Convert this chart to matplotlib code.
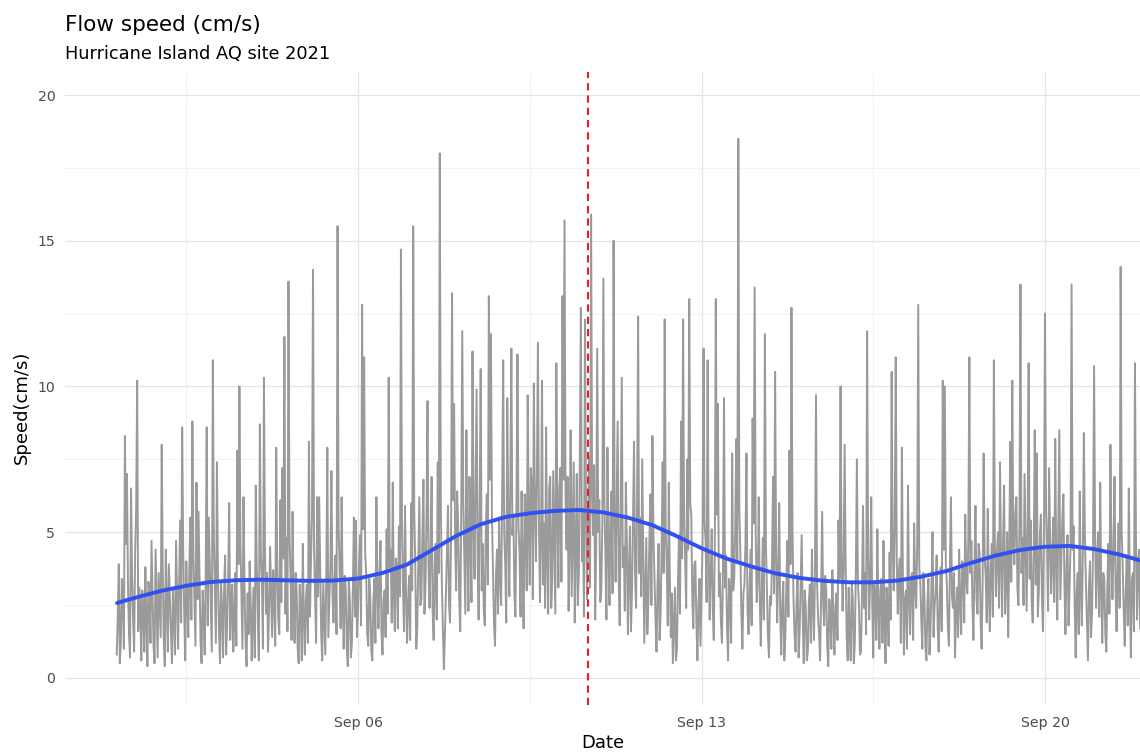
import numpy as np
import pandas as pd
import matplotlib
matplotlib.use("Agg")
import matplotlib.pyplot as plt
import matplotlib.dates as mdates

plt.rcParams['font.family'] = ['DejaVu Sans']

# flow speed (cm/s) on the hour, Sep 1 02:00 -> Sep 21 23:00, one row per day
speed_hour = [
    0.8, 3.9, 1.2, 2.6, 8.3, 7.0, 1.5, 6.5, 2.0, 4.3, 10.2, 3.1, 0.6, 2.2, 3.8, 0.4, 2.9, 4.7, 1.1, 4.4, 0.7, 2.5,
    8.0, 1.3, 4.4, 0.9, 2.7, 0.5, 2.1, 4.7, 1.0, 5.4, 8.6, 2.2, 4.0, 1.4, 5.5, 8.8, 2.6, 6.7, 5.7, 1.2, 3.0, 0.8, 8.6, 5.5,
    2.4, 10.9, 3.0, 7.4, 1.6, 3.3, 0.7, 4.2, 1.8, 6.0, 2.5, 0.9, 3.6, 7.8, 10.0, 2.8, 6.2, 1.3, 2.9, 4.0, 0.6, 3.1, 6.6, 1.9,
    8.7, 3.4, 10.3, 2.2, 0.9, 4.5, 1.4, 2.8, 7.9, 2.0, 6.1, 7.2, 11.7, 4.8, 13.6, 3.5, 5.7, 1.2, 3.0, 0.5, 2.4, 4.6, 0.8, 3.2,
    8.1, 4.0, 14.0, 2.9, 6.2, 6.2, 1.5, 3.3, 0.8, 7.9, 2.6, 7.1, 1.9, 4.2, 15.5, 3.8, 6.2, 1.0, 3.1, 0.4, 2.7, 1.2, 5.5, 5.4,
    2.3, 4.9, 12.8, 11.0, 3.6, 1.1, 2.8, 0.6, 3.4, 6.2, 1.7, 4.7, 0.8, 3.0, 5.1, 10.3, 4.4, 6.7, 1.6, 3.8, 5.2, 14.7, 3.1, 5.9,
    1.2, 3.5, 6.0, 15.5, 3.9, 1.8, 6.2, 2.7, 6.8, 3.1, 9.5, 2.4, 6.9, 1.3, 4.6, 7.4, 18.0, 3.3, 0.3, 2.9, 5.9, 1.9, 13.2, 9.4,
    3.0, 5.2, 1.6, 11.9, 4.1, 8.5, 2.3, 5.0, 11.2, 3.4, 9.9, 2.0, 10.6, 4.6, 1.8, 6.3, 13.1, 11.8, 3.7, 1.1, 4.4, 5.5, 2.5, 10.9,
    3.9, 9.6, 2.8, 11.3, 5.6, 2.1, 11.1, 4.3, 6.4, 1.7, 5.8, 9.7, 3.2, 6.6, 10.1, 4.0, 11.5, 2.6, 10.2, 5.3, 8.6, 2.2, 6.9, 3.5,
    4.7, 10.8, 3.1, 7.2, 13.1, 15.7, 4.4, 2.3, 8.5, 5.1, 1.9, 7.0, 3.6, 12.7, 5.8, 12.3, 2.7, 7.6, 15.9, 4.9, 2.0, 11.3, 6.1, 3.0,
    13.7, 4.2, 7.9, 2.5, 6.4, 15.0, 3.3, 8.8, 1.8, 10.3, 4.5, 6.7, 1.5, 5.2, 3.0, 8.1, 2.4, 12.4, 5.5, 7.5, 1.2, 4.8, 2.6, 6.3,
    8.3, 3.5, 0.9, 4.6, 2.2, 7.4, 12.3, 3.9, 6.7, 1.4, 0.5, 3.1, 1.0, 4.9, 8.8, 12.3, 4.1, 7.5, 13.0, 5.6, 1.7, 4.0, 0.6, 3.4,
    2.9, 11.3, 4.7, 10.9, 2.0, 5.1, 1.3, 13.0, 9.4, 3.6, 1.2, 9.6, 4.2, 0.6, 2.8, 7.7, 3.4, 8.2, 18.5, 4.3, 1.0, 3.2, 7.7, 1.5,
    4.4, 8.9, 13.4, 2.6, 6.2, 1.1, 4.8, 11.8, 3.0, 0.7, 2.5, 6.9, 10.5, 1.9, 6.0, 0.8, 3.3, 1.4, 4.7, 7.8, 12.7, 2.7, 0.9, 3.6,
    1.6, 4.9, 0.5, 2.4, 0.9, 3.2, 4.4, 1.3, 9.7, 2.1, 0.6, 5.7, 1.8, 3.0, 0.4, 2.2, 3.7, 0.8, 2.9, 5.4, 10.0, 2.3, 8.0, 1.4,
    3.1, 0.6, 2.7, 1.2, 7.5, 2.5, 0.9, 5.9, 3.6, 11.9, 2.0, 6.2, 0.7, 2.8, 5.1, 1.0, 3.4, 4.7, 0.5, 2.6, 4.3, 10.5, 3.0, 11.0,
    2.2, 4.1, 7.9, 0.8, 3.0, 6.6, 1.5, 3.6, 5.3, 2.4, 12.8, 3.3, 1.0, 2.9, 0.6, 3.4, 1.7, 5.0, 2.5, 4.2, 0.9, 3.8, 10.2, 10.0,
    3.2, 1.1, 6.2, 2.4, 0.7, 3.1, 4.4, 1.5, 3.8, 5.6, 2.9, 11.0, 4.7, 1.3, 5.9, 2.2, 4.3, 1.0, 7.7, 3.5, 5.8, 1.6, 4.6, 10.9,
    2.8, 5.0, 7.4, 2.1, 6.6, 3.3, 1.4, 8.1, 10.2, 3.9, 6.2, 2.5, 13.5, 4.8, 7.0, 2.3, 10.8, 5.4, 1.9, 8.5, 7.7, 3.0, 5.6, 1.6,
    12.5, 4.6, 7.2, 2.9, 5.5, 8.2, 2.0, 8.5, 4.1, 6.3, 1.5, 4.9, 3.0, 13.5, 5.2, 0.7, 3.6, 6.4, 1.8, 8.4, 3.3, 0.6, 4.0, 2.2,
    10.7, 2.4, 5.0, 6.7, 1.2, 3.4, 0.9, 4.6, 8.0, 2.7, 6.9, 1.6, 5.3, 14.1, 3.8, 1.1, 4.2, 6.5, 0.7, 3.6, 10.8, 2.0, 4.4, 6.5,
]
# readings at half past, Sep 1 02:30 -> Sep 21 23:30
speed_half = [
    2.1, 0.5, 3.4, 1.0, 4.6, 3.2, 0.7, 3.5, 0.9, 5.8, 1.6, 2.4, 3.0, 0.9, 2.0, 3.3, 1.2, 2.8, 0.5, 2.6, 3.6, 1.4,
    3.7, 0.4, 2.5, 3.9, 1.6, 3.1, 0.8, 2.9, 3.3, 1.9, 4.5, 0.6, 2.6, 3.8, 2.0, 4.2, 1.1, 2.7, 3.4, 0.5, 2.3, 3.5, 1.8, 4.0,
    0.9, 4.8, 1.2, 3.6, 0.5, 2.4, 3.0, 0.8, 3.4, 1.3, 3.2, 2.0, 1.1, 3.9, 4.6, 1.0, 3.1, 0.4, 1.5, 2.6, 2.2, 0.7, 3.8, 0.6,
    4.2, 1.0, 4.4, 3.6, 2.3, 2.9, 3.7, 1.1, 3.8, 1.5, 2.6, 4.1, 2.2, 1.6, 4.9, 1.3, 2.4, 3.6, 1.0, 3.2, 0.6, 2.0, 2.7, 1.2,
    2.1, 5.6, 4.5, 1.2, 2.8, 3.9, 0.6, 2.0, 3.6, 1.4, 3.9, 3.0, 3.4, 1.5, 5.2, 1.7, 2.9, 3.5, 1.1, 3.3, 0.7, 3.2, 2.1, 1.4,
    3.9, 1.8, 5.1, 4.3, 1.5, 3.4, 0.9, 2.6, 1.2, 3.1, 3.6, 1.5, 2.7, 1.4, 2.2, 3.8, 1.9, 3.0, 4.1, 1.7, 2.8, 5.4, 1.6, 2.9,
    2.6, 1.3, 3.0, 5.7, 1.0, 3.9, 2.5, 4.9, 2.2, 5.6, 3.8, 4.4, 2.3, 3.8, 2.0, 3.6, 6.0, 1.7, 1.5, 4.3, 2.6, 4.8, 6.1, 4.7,
    6.4, 2.7, 5.8, 6.0, 2.2, 4.7, 6.9, 2.6, 5.4, 6.6, 4.1, 5.9, 3.0, 2.4, 5.1, 3.2, 6.8, 5.6, 1.9, 3.6, 2.2, 3.4, 6.3, 5.0,
    1.9, 5.5, 6.8, 4.9, 2.9, 6.0, 5.2, 2.1, 3.6, 6.3, 3.0, 5.1, 7.2, 2.7, 5.9, 7.0, 5.4, 4.8, 3.2, 2.4, 4.1, 6.5, 2.4, 7.1,
    2.2, 5.9, 6.5, 3.3, 6.8, 6.2, 6.9, 4.6, 2.8, 7.4, 4.3, 2.5, 7.8, 4.0, 2.1, 6.0, 5.2, 3.1, 6.6, 7.3, 4.5, 5.0, 2.6, 5.4,
    6.1, 2.0, 4.4, 5.6, 2.9, 5.7, 6.2, 3.4, 5.9, 3.8, 2.3, 4.6, 3.7, 1.6, 5.4, 3.5, 6.1, 3.6, 2.8, 4.4, 3.1, 1.5, 4.7, 2.5,
    4.9, 2.0, 3.2, 1.3, 4.4, 3.6, 5.0, 1.8, 3.5, 2.9, 1.8, 0.6, 3.3, 2.2, 4.1, 5.3, 2.4, 4.4, 6.0, 2.7, 3.9, 1.9, 2.5, 1.1,
    4.6, 5.3, 2.6, 4.2, 3.7, 2.4, 4.5, 5.6, 2.8, 1.9, 3.7, 3.1, 1.7, 3.4, 1.2, 3.0, 5.1, 4.0, 5.8, 2.2, 2.9, 4.6, 2.3, 3.0,
    1.8, 5.3, 5.0, 3.4, 2.7, 3.1, 2.0, 4.6, 1.4, 2.8, 4.0, 2.9, 4.3, 3.5, 2.2, 2.5, 0.6, 3.2, 2.1, 3.9, 5.1, 1.5, 2.6, 0.7,
    3.3, 2.1, 3.0, 0.6, 2.6, 1.2, 2.5, 3.6, 3.3, 1.5, 2.8, 2.6, 3.5, 1.1, 2.7, 1.0, 2.1, 2.4, 1.3, 3.4, 4.3, 3.7, 3.9, 0.6,
    1.4, 3.2, 0.5, 3.8, 3.3, 0.8, 2.9, 2.4, 1.5, 4.2, 3.5, 2.6, 3.2, 1.3, 2.4, 3.0, 1.2, 2.2, 3.1, 1.1, 2.0, 4.6, 5.2, 4.0,
    3.6, 1.2, 3.4, 2.7, 1.0, 2.8, 3.4, 1.3, 3.1, 4.6, 3.8, 2.0, 3.6, 1.1, 2.6, 0.8, 3.2, 1.4, 2.9, 1.8, 2.7, 1.6, 4.4, 3.9,
    1.7, 3.9, 2.8, 3.6, 2.3, 1.4, 2.6, 4.0, 1.9, 3.4, 4.8, 3.6, 2.5, 3.8, 2.7, 4.6, 2.0, 3.3, 4.1, 1.9, 3.2, 3.8, 2.1, 4.5,
    4.3, 2.4, 4.1, 4.7, 2.2, 5.0, 4.2, 3.3, 4.6, 5.7, 3.1, 5.2, 3.6, 2.5, 4.6, 5.1, 3.4, 2.6, 4.4, 3.2, 2.1, 4.9, 2.8, 4.8,
    5.8, 2.3, 4.8, 3.9, 2.6, 4.0, 5.1, 2.7, 5.5, 3.2, 3.8, 1.8, 4.6, 4.4, 2.6, 2.9, 1.5, 3.0, 4.2, 4.9, 1.9, 3.1, 1.4, 4.5,
    4.9, 4.1, 2.1, 3.0, 3.6, 1.5, 3.1, 2.2, 4.3, 4.5, 3.2, 3.7, 2.4, 5.0, 2.3, 3.0, 1.8, 2.9, 3.4, 1.6, 4.7, 3.9, 1.7, 2.8,
]
n = min(len(speed_hour), len(speed_half))
speed = np.empty(2 * n)
speed[0::2] = speed_hour[:n]
speed[1::2] = speed_half[:n]
times = pd.date_range("2021-09-01 02:00", periods=2 * n, freq="30min")

# loess trend (day of September, cm/s)
smooth_day = [1.09, 1.5, 2.0, 2.5, 3.0, 3.5, 4.0, 4.5, 5.0, 5.5, 6.0, 6.5, 7.0, 7.5, 8.0, 8.5,
              9.0, 9.5, 10.0, 10.5, 11.0, 11.5, 12.0, 12.5, 13.0, 13.5, 14.0, 14.5, 15.0, 15.5,
              16.0, 16.5, 17.0, 17.5, 18.0, 18.5, 19.0, 19.5, 20.0, 20.5, 21.0, 21.5, 21.94]
smooth_val = [2.57, 2.77, 2.99, 3.16, 3.29, 3.35, 3.37, 3.35, 3.33, 3.34, 3.41, 3.60, 3.89, 4.38, 4.87, 5.27,
              5.52, 5.65, 5.73, 5.76, 5.68, 5.50, 5.24, 4.86, 4.45, 4.10, 3.83, 3.59, 3.43, 3.33,
              3.28, 3.28, 3.34, 3.48, 3.67, 3.95, 4.20, 4.39, 4.50, 4.53, 4.42, 4.24, 4.03]

aug31 = pd.Timestamp("2021-08-31")
smooth_times = aug31 + pd.to_timedelta(smooth_day, unit="D")
event = pd.Timestamp("2021-09-10 16:30")

fig = plt.figure(figsize=(11.4, 7.55), dpi=100)
ax = fig.add_axes([65 / 1140, 50 / 755, 1 - 65 / 1140, 633 / 755])

ax.plot(times, speed, color="#9a9a9a", lw=1.4, zorder=2)
ax.plot(smooth_times, smooth_val, color="#3050f0", lw=2.8, solid_capstyle="round", zorder=3)
ax.axvline(event, color="#ee1c25", lw=1.5, dashes=(3.5, 2.4), zorder=4)

ax.set_xlim(aug31 + pd.Timedelta(days=0.029), aug31 + pd.Timedelta(days=21.936))
ax.set_ylim(-0.93, 20.79)
ax.set_yticks([0, 5, 10, 15, 20])
ax.set_yticks([2.5, 7.5, 12.5, 17.5], minor=True)
ax.xaxis.set_major_locator(mdates.DayLocator(bymonthday=[6, 13, 20]))
ax.xaxis.set_major_formatter(mdates.DateFormatter("%b %d"))
ax.set_xticks([aug31 + pd.Timedelta(days=d) for d in (2.5, 9.5, 16.5)], minor=True)
ax.xaxis.set_minor_formatter(plt.NullFormatter())

for s in ax.spines.values():
    s.set_visible(False)
ax.grid(which="major", color="#e4e4e4", lw=0.9)
ax.grid(which="minor", color="#f0f0f0", lw=0.6)
ax.set_axisbelow(True)
ax.tick_params(which="both", length=0, labelsize=10.2, labelcolor="#4d4d4d")
ax.tick_params(axis="y", pad=7)
ax.tick_params(axis="x", pad=8)

ax.set_xlabel("Date", fontsize=13, labelpad=3)
ax.set_ylabel("Speed(cm/s)", fontsize=13)
ax.yaxis.set_label_coords(-0.032, 0.47)

fig.text(65 / 1140, 1 - 31 / 755, "Flow speed (cm/s)", fontsize=15.5, va="baseline")
fig.text(65 / 1140, 1 - 59 / 755, "Hurricane Island AQ site 2021", fontsize=12.8, va="baseline")

fig.savefig("out.png", dpi=100)
